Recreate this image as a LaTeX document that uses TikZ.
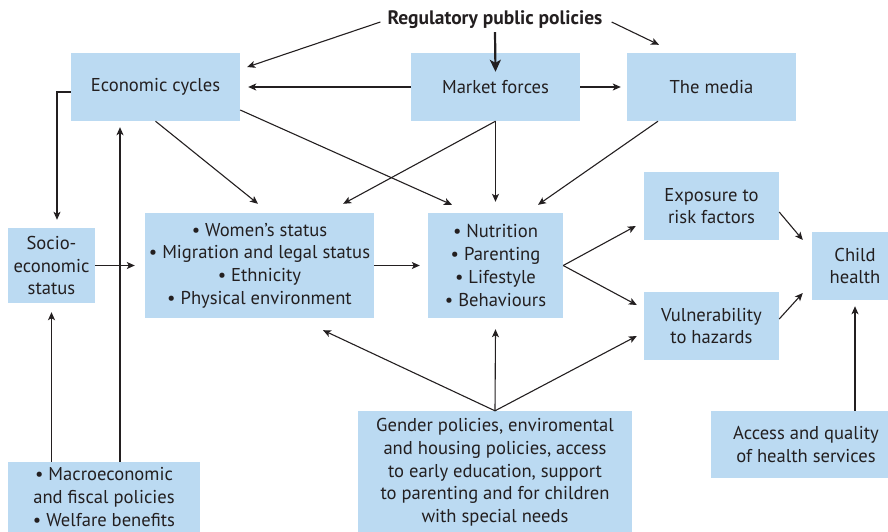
\documentclass[tikz,border=0pt]{standalone}
\usepackage{fontspec}
\setmainfont{PT Sans}
\usetikzlibrary{arrows.meta, calc}
\definecolor{boxblue}{RGB}{187,218,242}
\definecolor{ink}{RGB}{35,31,32}

\begin{document}
\begin{tikzpicture}[x=1pt, y=-1pt,
    box/.style={fill=boxblue, text=ink, align=center, inner sep=0pt, font=\fontsize{18.6}{22.7}\selectfont},
    link/.style={draw=ink, line width=1.1pt, -{Stealth[length=8pt, width=7pt, inset=2pt]}},
    biglink/.style={draw=ink, line width=2.2pt, -{Stealth[length=12pt, width=11pt, inset=3pt]}}]
    \useasboundingbox (0,0) rectangle (888,531);

    % Top row
    \node[text=ink, inner sep=0pt, font=\bfseries\fontsize{19.5}{22.7}\selectfont] (reg) at (495,20) {Regulatory public policies};
    \node[box, minimum width=169pt, minimum height=68pt] (econ) at (155.5,87) {Economic cycles};
    \node[box, minimum width=169pt, minimum height=68pt] (market) at (495.5,87) {Market forces};
    \node[box, minimum width=169pt, minimum height=68pt] (media) at (711.5,87) {The media};

    % Middle row
    \node[box, minimum width=87pt, minimum height=75pt] (socio) at (51.5,265.5) {Socio-\\economic\\status};
    \node[box, minimum width=229pt, minimum height=105pt] (women) at (259.5,265.5)
        {• Women’s status\\• Migration and legal status\\• Ethnicity\\• Physical environment};
    \node[box, minimum width=135pt, minimum height=105pt] (nutr) at (495.5,265.5)
        {• Nutrition\\• Parenting\\• Lifestyle\\• Behaviours};
    \node[box, minimum width=135pt, minimum height=68pt] (expo) at (711.5,206) {Exposure to\\risk factors};
    \node[box, minimum width=135pt, minimum height=68pt] (vuln) at (711.5,326) {Vulnerability\\to hazards};
    \node[box, minimum width=86pt, minimum height=68pt] (child) at (855,266) {Child\\health};

    % Bottom row
    \node[box, minimum width=192pt, minimum height=70pt] (macro) at (104,497)
        {• Macroeconomic\\and fiscal policies\\• Welfare benefits};
    \node[box, minimum width=274pt, minimum height=123pt] (gender) at (495,472.5)
        {Gender policies, enviromental\\and housing policies, access\\to early education, support\\to parenting and for children\\with special needs};
    \node[box, minimum width=190pt, minimum height=67pt] (access) at (806,444.5) {Access and quality\\of health services};

    % Regulatory policies
    \draw[link] ([xshift=-7pt,yshift=-2pt]reg.west) -- ([xshift=7pt,yshift=20pt]econ.east);
    \draw[biglink] ([yshift=-3pt]reg.south) -- ([yshift=-19pt]market.north);
    \draw[link] ([xshift=9pt,yshift=-2pt]reg.east) -- ([xshift=-52.5pt,yshift=8pt]media.north);

    % Top row links
    \draw[link] (market.west) -- ([xshift=8pt]econ.east);
    \draw[link] (market.east) -- ([xshift=-6pt]media.west);
    \draw[link] ([yshift=-5pt]econ.west) -| ([xshift=5.5pt,yshift=8pt]socio.north);

    % Macroeconomic policies
    \coordinate (m1) at ([xshift=16pt]macro.north);
    \draw[link] (m1) -- ([yshift=-6pt]m1 |- econ.south);
    \draw[link] (macro.north -| socio.south) -- ([yshift=-9pt]socio.south);

    % Down to the middle row
    \draw[link] (econ.south) -- ([xshift=-1.5pt,yshift=9pt]women.north);
    \draw[link] ([yshift=-23pt]econ.east) -- ([xshift=-43.5pt,yshift=8pt]nutr.north);
    \draw[link] (market.south) -- ([xshift=-31pt,yshift=9pt]women.north east);
    \draw[link] (market.south) -- ([yshift=11pt]nutr.north);
    \draw[link] ([xshift=-53.5pt]media.south) -- ([xshift=42.5pt,yshift=8pt]nutr.north);

    % Middle row links
    \draw[link] (socio.east) -- ([xshift=-10pt]women.west);
    \draw[link] (women.east) -- ([xshift=-8pt]nutr.west);
    \draw[link] (nutr.east) -- ([xshift=-8pt,yshift=-20pt]expo.west);
    \draw[link] (nutr.east) -- ([xshift=-7pt,yshift=21pt]vuln.west);
    \draw[link] ([yshift=-6pt]expo.east) -- ([xshift=-9pt,yshift=26pt]child.west);
    \draw[link] ([yshift=7pt]vuln.east) -- ([xshift=-9pt,yshift=-27pt]child.west);

    % Bottom links
    \draw[link] (access.north -| child.south) -- ([yshift=-6pt]child.south);
    \draw[link] (gender.north) -- ([xshift=63.5pt,yshift=-12pt]women.south);
    \draw[link] (gender.north) -- ([yshift=-11pt]nutr.south);
    \draw[link] (gender.north) -- ([xshift=-7pt,yshift=-10pt]vuln.west);
\end{tikzpicture}
\end{document}
